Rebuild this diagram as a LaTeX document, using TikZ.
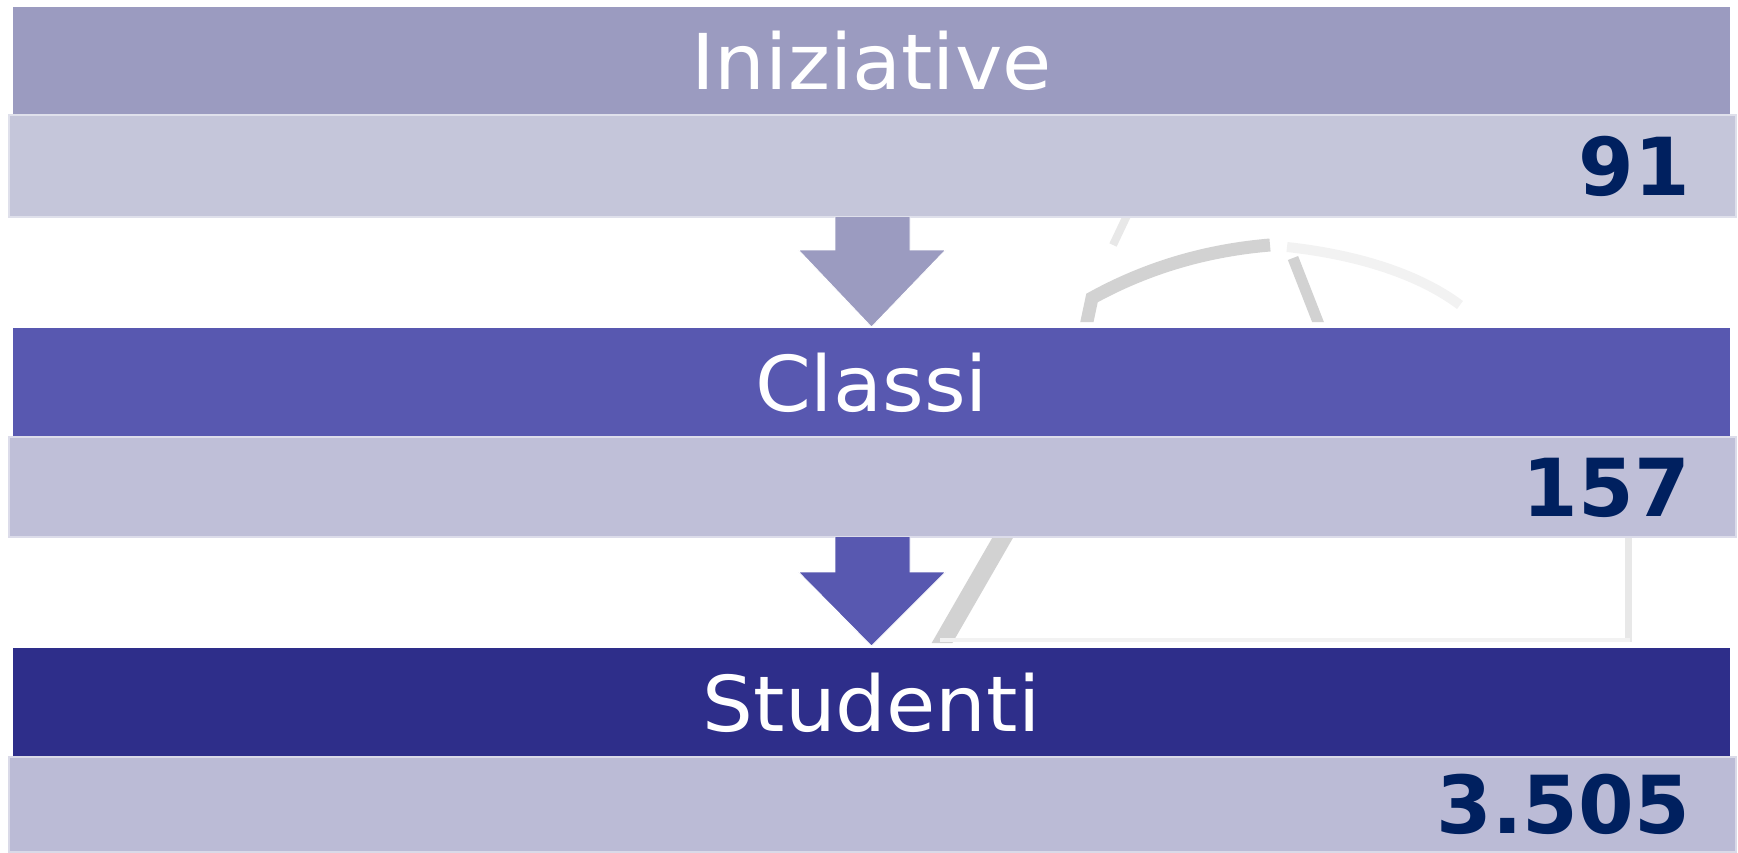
\documentclass[tikz,border=0pt]{standalone}
\usepackage{fontspec}
\setmainfont{DejaVu Sans}
\newfontfamily\titlefont[FakeStretch=1.04]{DejaVu Sans}
\usetikzlibrary{calc}
\definecolor{tA}{HTML}{9B9BC0}
\definecolor{vA}{HTML}{C5C6DA}
\definecolor{tB}{HTML}{5858B0}
\definecolor{vB}{HTML}{BFBFD8}
\definecolor{tC}{HTML}{2E2E8A}
\definecolor{vC}{HTML}{BBBBD6}
\definecolor{numcol}{HTML}{00205F}
\definecolor{wmA}{HTML}{D2D2D2}
\definecolor{wmB}{HTML}{E8E8E8}
\definecolor{wmC}{HTML}{F2F2F2}
\begin{document}
\begin{tikzpicture}[x=1pt,y=-1pt,
  titlebar/.style={anchor=north west, inner sep=0pt, outer sep=0pt,
    minimum width=1717pt, minimum height=#1, text=white,
    font=\titlefont\fontsize{77}{80}\selectfont},
  valbar/.style={anchor=north west, inner sep=0pt, outer sep=0pt,
    minimum width=1727pt, minimum height=#1},
  numtext/.style={anchor=base east, inner sep=0pt, text=numcol,
    font=\fontsize{80}{84}\selectfont\bfseries},
  blockarrow/.style={draw=white, line width=0.8pt, line join=miter}
]
\useasboundingbox (0,0) rectangle (1738,852);
% faint watermark behind the bars
\begin{scope}
  \clip (0,217) rectangle (1738,322) (0,537) rectangle (1738,643);
  \draw[wmA, line width=13pt] (1082,345) -- (1092,298) .. controls (1150,266) and (1210,250) .. (1270,245);
  \draw[wmC, line width=10pt] (1287,247) .. controls (1360,255) and (1420,275) .. (1460,305);
  \draw[wmA, line width=11pt] (1293,258) -- (1327,345);
  \draw[wmB, line width=8pt] (1132,205) -- (1113,245);
  \draw[wmA, line width=18pt] (1010,525) -- (938,650);
  \draw[wmB, line width=7pt] (1628,525) -- (1628,642);
  \draw[wmC, line width=4pt] (940,640) -- (1630,640);
\end{scope}
% bars
\node[titlebar=108pt, fill=tA] (t1) at (13,7) {Iniziative};
\node[valbar=102pt, fill=vA, draw=white!45!vA, line width=1.2pt] (v1) at (9,115) {};
\node[numtext] (n1) at (1690,195) {91};
\node[titlebar=109pt, fill=tB] (t2) at (13,328) {Classi};
\node[valbar=100pt, fill=vB, draw=white!45!vB, line width=1.2pt] (v2) at (9,437) {};
\node[numtext] (n2) at (1690,516) {157};
\node[titlebar=109pt, fill=tC] (t3) at (13,648) {Studenti};
\node[valbar=95pt, fill=vC, draw=white!45!vC, line width=1.2pt] (v3) at (9,757) {};
\node[numtext] (n3) at (1690,833) {3.505};
% block arrows
\filldraw[blockarrow, fill=tA]
  ($(v1.south)+(-37.5,0)$) -- ($(v1.south)+(-37.5,33)$) -- ($(v1.south)+(-74,33)$)
  -- ($(t2.north)+(0,-1)$)
  -- ($(v1.south)+(73,33)$) -- ($(v1.south)+(37.5,33)$) -- ($(v1.south)+(37.5,0)$);
\filldraw[blockarrow, fill=tB]
  ($(v2.south)+(-37.5,0)$) -- ($(v2.south)+(-37.5,35)$) -- ($(v2.south)+(-74,35)$)
  -- ($(t3.north)+(0,-2)$)
  -- ($(v2.south)+(73,35)$) -- ($(v2.south)+(37.5,35)$) -- ($(v2.south)+(37.5,0)$);
\end{tikzpicture}
\end{document}
